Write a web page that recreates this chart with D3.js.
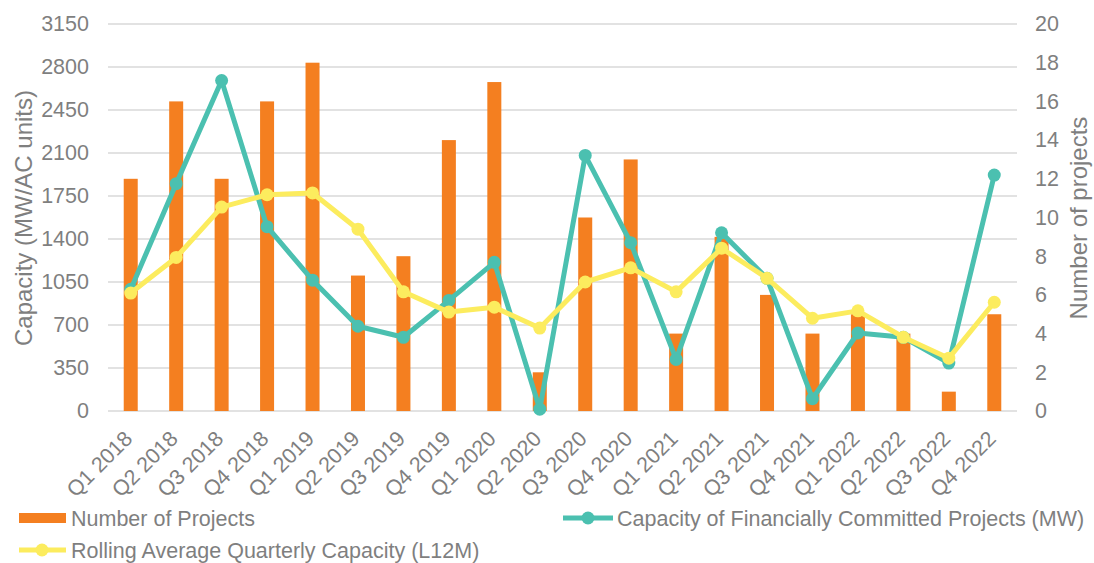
<!DOCTYPE html>
<html lang="en">
<head>
<meta charset="utf-8">
<title>Capacity and projects</title>
<script src="https://cdn.jsdelivr.net/npm/d3@7"></script>
<style>
body { margin: 0; background: #fff; }
text { font-family: "Liberation Sans", Arial, sans-serif; fill: #7f7f7f; }
.grid line { stroke: #d9d9d9; stroke-width: 1.5; }
</style>
</head>
<body>
<script>
// data
var quarters = ["Q1 2018","Q2 2018","Q3 2018","Q4 2018","Q1 2019","Q2 2019","Q3 2019","Q4 2019",
  "Q1 2020","Q2 2020","Q3 2020","Q4 2020","Q1 2021","Q2 2021","Q3 2021","Q4 2021",
  "Q1 2022","Q2 2022","Q3 2022","Q4 2022"];
var projects = [12,16,12,16,18,7,8,14,17,2,10,13,4,9,6,4,5,4,1,5];
var capacity = [990,1850,2690,1500,1065,690,600,900,1210,15,2080,1370,420,1450,1080,100,635,600,390,1920];
var rolling = [960,1250,1660,1760,1775,1480,970,805,845,675,1050,1165,970,1325,1080,755,815,600,430,885];
var leftTicks = [0,350,700,1050,1400,1750,2100,2450,2800,3150];
var rightTicks = [0,2,4,6,8,10,12,14,16,18,20];

var w = 1094, h = 563;
var padL = 108, padR = 1017, padT = 24, padB = 411;
var orange = "#f47f20", teal = "#4bc0b0", yellow = "#fcec5e";
var fs = 21.5;

var svg = d3.select("body").append("svg").attr("width", w).attr("height", h);

var x = d3.scaleBand().domain(quarters).range([padL, padR]);
var yL = d3.scaleLinear().domain([0, 3150]).range([padB, padT]);
var yR = d3.scaleLinear().domain([0, 20]).range([padB, padT]);

// gridlines
svg.append("g").attr("class", "grid")
  .selectAll("line").data(leftTicks).enter().append("line")
  .attr("x1", padL).attr("x2", padR)
  .attr("y1", function(d) { return yL(d); })
  .attr("y2", function(d) { return yL(d); });

// axes (labels only)
var axL = svg.append("g").attr("transform", "translate(" + padL + ",0)")
  .call(d3.axisLeft(yL).tickValues(leftTicks).tickFormat(d3.format("d")).tickSize(0).tickPadding(19));
var axR = svg.append("g").attr("transform", "translate(" + padR + ",0)")
  .call(d3.axisRight(yR).tickValues(rightTicks).tickSize(0).tickPadding(18));
[axL, axR].forEach(function(a) {
  a.select(".domain").remove();
  a.selectAll("text").attr("font-size", fs).attr("fill", "#7f7f7f")
    .attr("font-family", "Liberation Sans, Arial, sans-serif");
});

var axX = svg.append("g").attr("transform", "translate(0," + padB + ")")
  .call(d3.axisBottom(x).tickSize(0));
axX.select(".domain").remove();
axX.selectAll("text")
  .attr("font-size", fs).attr("fill", "#7f7f7f")
  .attr("font-family", "Liberation Sans, Arial, sans-serif")
  .attr("text-anchor", "end")
  .attr("dy", null).attr("y", 0)
  .attr("transform", "translate(3,29) rotate(-45)");

// axis titles
svg.append("text").attr("transform", "translate(32,218) rotate(-90)")
  .attr("text-anchor", "middle").attr("font-size", 24).text("Capacity (MW/AC units)");
svg.append("text").attr("transform", "translate(1087,218) rotate(-90)")
  .attr("text-anchor", "middle").attr("font-size", 24).text("Number of projects");

// bars
var bw = 14;
svg.selectAll("rect.bar").data(projects).enter().append("rect")
  .attr("class", "bar")
  .attr("x", function(d, i) { return x(quarters[i]) + x.bandwidth() / 2 - bw / 2; })
  .attr("y", function(d) { return yR(d); })
  .attr("width", bw)
  .attr("height", function(d) { return padB - yR(d); })
  .attr("fill", orange);

function drawLine(values, color, r) {
  var line = d3.line()
    .x(function(d, i) { return x(quarters[i]) + x.bandwidth() / 2; })
    .y(function(d) { return yL(d); });
  svg.append("path").datum(values)
    .attr("d", line).attr("fill", "none")
    .attr("stroke", color).attr("stroke-width", 5).attr("stroke-linejoin", "round");
  svg.append("g").selectAll("circle").data(values).enter().append("circle")
    .attr("cx", function(d, i) { return x(quarters[i]) + x.bandwidth() / 2; })
    .attr("cy", function(d) { return yL(d); })
    .attr("r", r).attr("fill", color);
}
drawLine(capacity, teal, 6.5);
drawLine(rolling, yellow, 6.5);

// legend
var lg = svg.append("g");
lg.append("rect").attr("x", 19).attr("y", 513).attr("width", 47).attr("height", 10).attr("fill", orange);
lg.append("text").attr("x", 71).attr("y", 526).attr("font-size", fs).text("Number of Projects");

lg.append("line").attr("x1", 563).attr("x2", 613).attr("y1", 518).attr("y2", 518)
  .attr("stroke", teal).attr("stroke-width", 5);
lg.append("circle").attr("cx", 588).attr("cy", 518).attr("r", 6.5).attr("fill", teal);
lg.append("text").attr("x", 617).attr("y", 526).attr("font-size", fs)
  .text("Capacity of Financially Committed Projects (MW)");

lg.append("line").attr("x1", 19).attr("x2", 66).attr("y1", 550).attr("y2", 550)
  .attr("stroke", yellow).attr("stroke-width", 5);
lg.append("circle").attr("cx", 42).attr("cy", 550).attr("r", 6.5).attr("fill", yellow);
lg.append("text").attr("x", 71).attr("y", 558).attr("font-size", fs)
  .text("Rolling Average Quarterly Capacity (L12M)");
</script>
</body>
</html>
